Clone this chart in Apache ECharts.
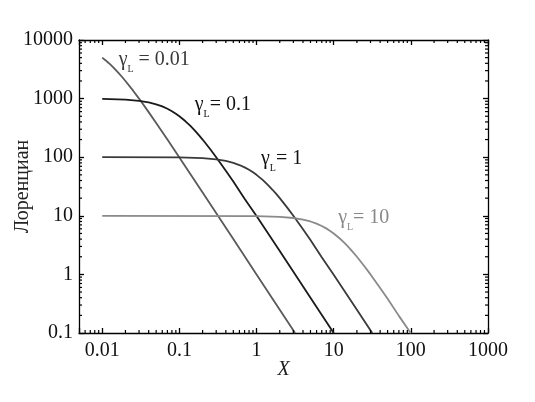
<!DOCTYPE html>
<html><head><meta charset="utf-8">
<script src="https://cdn.jsdelivr.net/npm/echarts@6/dist/echarts.min.js"></script>
<style>html,body{margin:0;padding:0;background:#fff}#c{width:535px;height:402px}</style>
</head><body><div id="c"></div>
<script>
// ---- data ----
const xTickValues = [0.01, 0.1, 1, 10, 100, 1000];
const xTickLabels = ['0.01', '0.1', '1', '10', '100', '1000'];
const yTickValues = [0.1, 1, 10, 100, 1000, 10000];
const yTickLabels = ['0.1', '1', '10', '100', '1000', '10000'];
const xRange = [0.005, 1000];
const yRange = [0.1, 10000];

const g001X = [0.01, 0.011, 0.012, 0.013, 0.014, 0.016, 0.018, 0.02, 0.025, 0.03, 0.04, 0.05, 0.07, 0.1, 0.2, 0.5, 1, 2, 3.16];
const g001Y = [5000, 4525, 4098, 3717, 3378, 2809, 2358, 2000, 1379, 1000, 588, 385, 200, 99, 25, 4, 1, 0.25, 0.1];
const g01X = [0.01, 0.02, 0.03, 0.04, 0.05, 0.06, 0.07, 0.08, 0.09, 0.1, 0.12, 0.14, 0.16, 0.18, 0.2, 0.25, 0.3, 0.4, 0.5, 0.7, 1, 2, 5, 10];
const g01Y = [990, 962, 917, 862, 800, 735, 671, 610, 552, 500, 410, 338, 281, 236, 200, 138, 100, 58.8, 38.5, 19.6, 9.9, 2.5, 0.4, 0.1];
const g1X = [0.01, 0.1, 0.2, 0.3, 0.4, 0.5, 0.6, 0.7, 0.8, 0.9, 1, 1.2, 1.4, 1.6, 1.8, 2, 2.5, 3, 4, 5, 7, 10, 20, 31.6];
const g1Y = [100, 99, 96.2, 91.7, 86.2, 80, 73.5, 67.1, 61, 55.2, 50, 41, 33.8, 28.1, 23.6, 20, 13.8, 10, 5.88, 3.85, 1.96, 0.99, 0.25, 0.1];
const g10X = [0.01, 1, 2, 3, 4, 5, 6, 7, 8, 9, 10, 12, 14, 16, 18, 20, 25, 30, 40, 50, 70, 100];
const g10Y = [10, 9.9, 9.62, 9.17, 8.62, 8, 7.35, 6.71, 6.1, 5.52, 5, 4.1, 3.38, 2.81, 2.36, 2, 1.38, 1, 0.588, 0.385, 0.196, 0.099];

const seriesNames = ['γL = 0.01', 'γL = 0.1', 'γL = 1', 'γL = 10'];
const labelTexts = [' = 0.01', '= 0.1', '= 1', '= 10'];
const labelX = [0.0163, 0.158, 1.14, 11.4];
const labelY = [4200, 720, 86, 8.5];

const xName = 'X';
const yName = 'Лоренциан';

// ---- styles ----
const lineColors = ['#5a5a5a', '#1a1a1a', '#3a3a3a', '#8a8a8a'];
const labelColors = ['#3a3a3a', '#111111', '#111111', '#888888'];
const FONT = 'Liberation Serif';
const FS = 20;
const MAJOR_LEN = 5, MINOR_LEN = 3;

const L = v => Math.log10(v);
function minorVals(lo, hi) {
  const out = [];
  for (let e = Math.floor(L(lo)); e < Math.ceil(L(hi)); e++) {
    for (let m = 2; m <= 9; m++) {
      const v = m * Math.pow(10, e);
      if (v > lo * 1.0001 && v < hi * 0.9999) out.push(L(v));
    }
  }
  return out;
}
function labelFor(vals, labels) {
  return v => {
    const i = vals.findIndex(t => Math.abs(L(t) - v) < 1e-6);
    return i >= 0 ? labels[i] : '';
  };
}

function makeAxis(kind, pos, showLabel) {
  const range = kind === 'x' ? xRange : yRange;
  const tv = kind === 'x' ? xTickValues : yTickValues;
  const tl = kind === 'x' ? xTickLabels : yTickLabels;
  const ax = {
    type: 'value',
    position: pos,
    min: L(range[0]),
    max: L(range[1]),
    splitLine: { show: false },
    axisLine: { show: true, onZero: false, lineStyle: { color: '#000', width: 1.3 } },
    axisTick: { show: true, inside: true, length: MAJOR_LEN, lineStyle: { color: '#000', width: 1.3 } },
    axisLabel: { show: false }
  };
  if (showLabel) {
    ax.axisLabel = {
      show: true, customValues: tv.map(L), formatter: labelFor(tv, tl),
      color: '#111', fontFamily: FONT, fontSize: FS, margin: kind === 'x' ? 8 : 6
    };
  }
  return ax;
}

const xAxes = [makeAxis('x', 'bottom', true), makeAxis('x', 'top', false)];
Object.assign(xAxes[0], {
  name: xName, nameLocation: 'middle', nameGap: 27, nameMoveOverlap: false,
  nameTextStyle: { fontFamily: FONT, fontSize: FS, fontStyle: 'italic', color: '#222' }
});
const yAxes = [makeAxis('y', 'left', true), makeAxis('y', 'right', false)];
Object.assign(yAxes[0], {
  name: yName, nameLocation: 'middle', nameGap: 46, nameMoveOverlap: false,
  nameTextStyle: { fontFamily: FONT, fontSize: FS, color: '#222' }
});

const allX = [g001X, g01X, g1X, g10X];
const allY = [g001Y, g01Y, g1Y, g10Y];

const series = allX.map((xs, i) => ({
  name: seriesNames[i],
  type: 'line',
  xAxisIndex: 0, yAxisIndex: 0,
  data: xs.map((x, j) => [L(x), L(allY[i][j])]),
  showSymbol: false,
  smooth: false,
  lineStyle: { color: lineColors[i], width: 1.8 },
  itemStyle: { color: lineColors[i] },
  z: 2,
  markPoint: {
    symbol: 'circle', symbolSize: 0.1,
    itemStyle: { color: 'transparent' },
    data: [{ coord: [L(labelX[i]), L(labelY[i])] }],
    label: {
      show: true, position: 'right', distance: 0,
      formatter: '{g|γ}{s|L}{t|' + labelTexts[i] + '}',
      rich: {
        g: { fontFamily: FONT, fontSize: FS, color: labelColors[i], lineHeight: 24, verticalAlign: 'top' },
        s: { fontFamily: FONT, fontSize: 10, color: labelColors[i], lineHeight: 10, verticalAlign: 'bottom' },
        t: { fontFamily: FONT, fontSize: FS, color: labelColors[i], lineHeight: 24, verticalAlign: 'top' }
      }
    }
  }
}));

// minor ticks (2..9 per decade) on all four frame sides, placed through the axes' scales
const minorTickData = minorVals(xRange[0], xRange[1]).map(v => [v, L(yRange[0]), 0])
  .concat(minorVals(yRange[0], yRange[1]).map(v => [L(xRange[0]), v, 1]));
series.push({
  type: 'custom',
  xAxisIndex: 0, yAxisIndex: 0,
  silent: true, clip: false, z: 5,
  data: minorTickData,
  renderItem: function (params, api) {
    const isY = api.value(2) === 1;
    const style = { stroke: '#000', lineWidth: 1.2, fill: null };
    if (!isY) {
      const v = api.value(0);
      const b = api.coord([v, L(yRange[0])]);
      const t = api.coord([v, L(yRange[1])]);
      return { type: 'group', children: [
        { type: 'line', shape: { x1: b[0], y1: b[1], x2: b[0], y2: b[1] - MINOR_LEN }, style },
        { type: 'line', shape: { x1: t[0], y1: t[1], x2: t[0], y2: t[1] + MINOR_LEN }, style }
      ] };
    } else {
      const v = api.value(1);
      const l = api.coord([L(xRange[0]), v]);
      const r = api.coord([L(xRange[1]), v]);
      return { type: 'group', children: [
        { type: 'line', shape: { x1: l[0], y1: l[1], x2: l[0] + MINOR_LEN, y2: l[1] }, style },
        { type: 'line', shape: { x1: r[0], y1: r[1], x2: r[0] - MINOR_LEN, y2: r[1] }, style }
      ] };
    }
  }
});

const chart = echarts.init(document.getElementById('c'), null, { renderer: 'canvas' });
chart.setOption({
  animation: false,
  backgroundColor: '#fff',
  grid: { left: 79, right: 47, top: 40, bottom: 69, containLabel: false, outerBoundsMode: 'none' },
  xAxis: xAxes,
  yAxis: yAxes,
  series: series
});
</script>
</body></html>
